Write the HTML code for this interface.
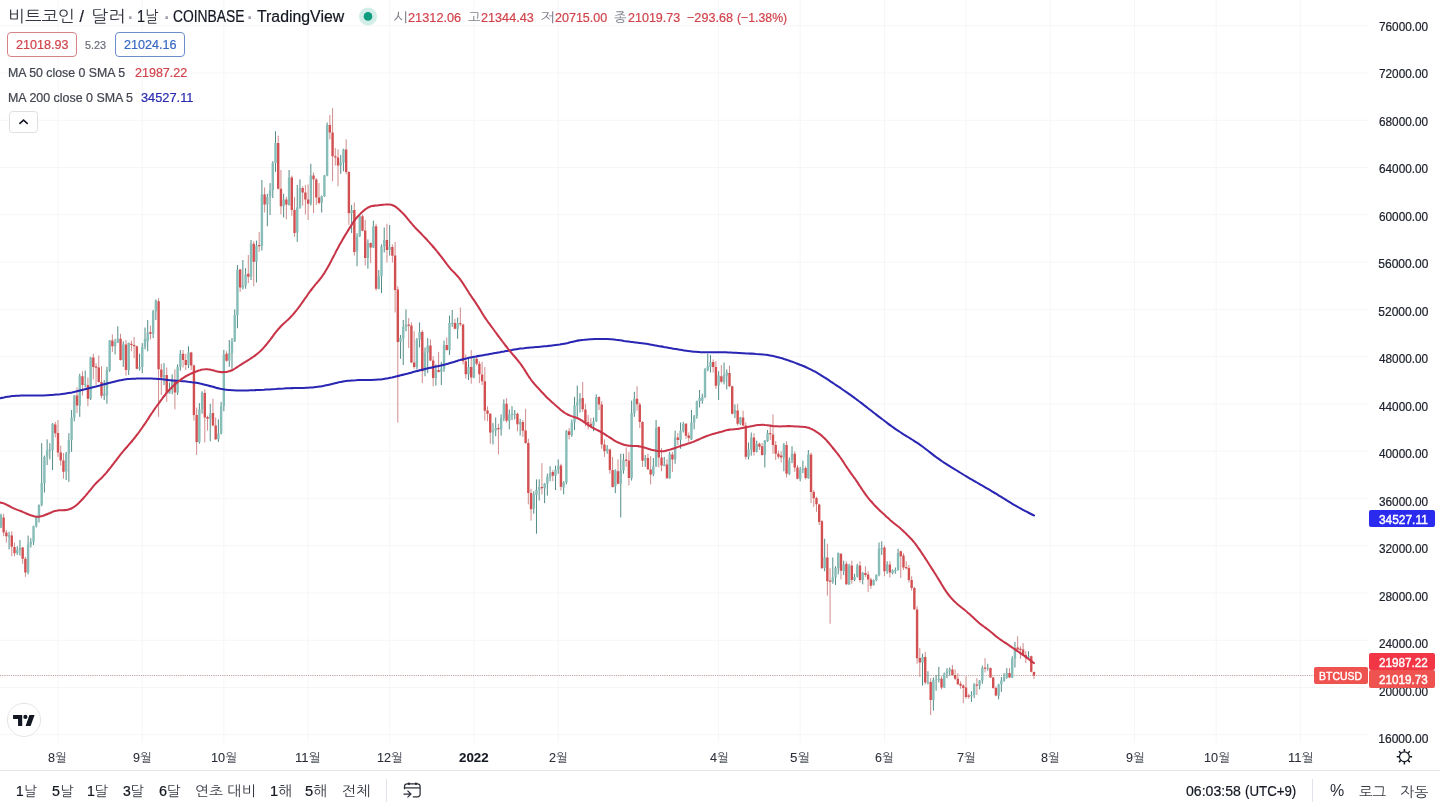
<!DOCTYPE html>
<html lang="ko">
<head>
<meta charset="utf-8">
<title>비트코인 / 달러 · 1날 · COINBASE · TradingView</title>
<style>
html,body{margin:0;padding:0;background:#fff}
body{width:1440px;height:810px;overflow:hidden;position:relative;font-family:"Liberation Sans", "NanumGothic", "Noto Sans CJK KR", sans-serif}
.t{position:absolute;white-space:pre;display:block;transform-origin:0 50%;font-weight:400}
.price-labels .t{-webkit-text-stroke:0.4px #fff}
.t{-webkit-text-stroke:0.22px currentColor}
.k{-webkit-text-stroke:0 transparent;opacity:.86}
.t.thin{-webkit-text-stroke:0 transparent}
.time-axis .t{-webkit-text-stroke:0.08px currentColor}
.grp{position:absolute;left:0;top:0;margin:0;padding:0;font-size:0;font-weight:400}
.chart{position:absolute;left:0;top:0}
.box{position:absolute;box-sizing:border-box}
.pill{border:1px solid;border-radius:4px;background:#fff}
.tag{border-radius:2px}
.bar{position:absolute;background:#e0e3eb}
</style>
</head>
<body>
<svg class="chart" width="1440" height="810" viewBox="0 0 1440 810">
<path d="M0 25.70H1369M0 72.97H1369M0 120.24H1369M0 167.51H1369M0 214.78H1369M0 262.05H1369M0 309.32H1369M0 356.59H1369M0 403.86H1369M0 451.13H1369M0 498.40H1369M0 545.67H1369M0 592.94H1369M0 640.21H1369M0 687.48H1369M0 734.75H1369M58.00 0V742.5M142.28 0V742.5M223.83 0V742.5M308.11 0V742.5M389.67 0V742.5M473.95 0V742.5M558.22 0V742.5M718.62 0V742.5M800.18 0V742.5M884.45 0V742.5M966.01 0V742.5M1050.29 0V742.5M1134.57 0V742.5M1216.12 0V742.5M1300.40 0V742.5" stroke="#f5f6f8" stroke-width="1" fill="none"/>
<path d="M0 675.5H1314" stroke="#c09a9a" stroke-width="1" stroke-dasharray="1.1 1.1" fill="none"/>
<g class="candles">
<path d="M0.91 513.75V528.12M9.07 531.88V549.38M17.22 546.25V555.00M19.94 540.00V555.62M28.10 535.62V574.38M30.81 538.12V547.50M33.53 525.62V545.00M36.25 515.62V527.50M38.97 504.38V522.50M41.69 443.12V506.25M44.41 455.62V492.50M47.13 439.38V465.00M49.84 443.12V459.38M52.56 423.12V470.00M66.16 451.88V480.00M68.87 433.12V481.88M71.59 410.00V451.88M74.31 395.00V421.25M79.75 373.75V416.88M85.19 370.62V387.50M90.62 356.88V400.00M104.22 380.00V400.00M106.93 366.88V403.75M109.65 340.00V371.88M115.09 338.75V354.38M117.81 326.25V343.12M123.25 341.25V366.88M128.68 342.50V375.00M139.56 353.75V370.62M142.28 343.12V373.12M145.00 327.50V349.38M147.71 320.00V351.25M153.15 310.00V338.12M155.87 299.38V320.00M164.03 363.12V385.00M169.46 382.50V393.75M172.18 374.38V394.38M177.62 364.38V395.00M180.34 350.00V370.62M188.49 346.25V368.12M199.37 403.12V443.75M202.09 391.25V413.75M210.24 403.75V441.25M218.40 419.38V441.88M221.12 401.88V434.38M223.83 350.00V411.25M229.27 340.00V366.88M231.99 338.12V368.75M234.71 309.38V341.88M237.43 265.00V328.25M242.86 260.00V289.38M245.58 268.12V288.75M251.02 240.00V280.00M256.46 240.62V282.50M261.89 180.00V250.62M267.33 193.75V226.25M270.05 183.12V215.00M272.77 161.25V198.12M275.49 131.25V171.88M283.64 193.75V217.50M289.08 170.00V205.62M297.24 185.00V241.88M299.96 179.38V208.75M310.83 163.75V205.62M321.70 195.62V212.50M324.42 175.00V196.88M327.14 122.50V176.25M340.73 155.00V173.75M343.45 148.75V171.25M351.61 205.00V233.12M357.05 233.12V266.25M359.76 215.00V236.88M367.92 239.38V268.75M373.36 220.62V248.12M378.79 270.00V289.38M381.51 244.38V293.12M384.23 227.50V252.50M389.67 225.00V255.62M400.54 335.00V358.75M403.26 320.00V365.00M405.98 309.38V331.25M416.86 338.12V369.38M419.57 322.50V347.50M425.01 347.50V376.25M427.73 338.12V373.12M435.89 364.38V385.62M441.32 361.88V385.00M444.04 340.62V371.88M449.48 315.62V355.00M452.20 310.00V326.88M457.63 317.50V338.75M468.51 357.50V380.00M473.95 357.50V378.12M492.98 423.12V444.38M495.69 417.50V436.25M501.13 414.38V435.62M503.85 399.38V421.25M509.29 409.38V429.38M512.01 406.25V420.00M514.72 410.00V419.38M520.16 418.75V435.62M533.75 491.25V513.75M536.47 479.38V533.75M539.19 479.38V500.62M544.63 483.12V503.12M547.35 473.75V495.62M550.07 466.25V481.25M555.50 465.62V490.00M558.22 459.38V473.75M563.66 481.25V494.38M566.38 430.00V484.38M571.82 419.38V436.88M574.53 396.88V430.00M577.25 385.62V416.88M579.97 393.12V412.50M593.56 417.50V431.25M596.28 394.38V421.88M607.16 445.00V453.75M615.31 469.38V493.12M620.75 453.75V517.50M623.47 453.75V473.75M631.62 400.62V480.62M634.34 391.88V416.88M645.22 455.00V466.88M653.37 458.12V476.25M656.09 420.00V466.88M664.25 456.88V466.25M669.68 451.88V478.75M675.12 430.62V463.75M680.56 422.50V448.75M683.28 421.88V432.50M691.43 410.00V440.00M694.15 415.00V429.38M696.87 400.62V418.75M699.59 390.00V407.50M702.31 393.75V403.75M705.03 368.12V398.12M707.75 353.75V371.25M710.46 355.00V372.50M718.62 371.25V400.00M724.06 362.50V384.38M726.78 369.38V389.38M734.93 404.38V418.12M740.37 416.88V425.00M748.52 442.50V459.38M751.24 432.50V455.62M756.68 440.62V452.50M764.84 440.00V467.50M767.55 430.00V441.88M783.87 443.12V471.25M789.30 457.50V475.00M792.02 446.25V463.12M800.18 466.88V481.25M802.90 460.62V473.12M808.33 450.00V478.75M824.65 538.75V571.25M832.80 557.50V583.75M835.52 566.25V585.00M838.24 552.50V574.38M843.68 560.62V575.00M849.11 563.75V585.00M854.55 573.75V581.25M857.27 563.75V577.50M862.71 571.88V584.38M873.58 579.38V585.62M876.30 574.38V581.25M879.02 542.50V576.25M881.74 541.25V555.00M887.17 561.25V573.75M892.61 569.38V574.38M895.33 567.50V573.75M898.05 548.75V570.62M922.51 653.75V685.62M927.95 671.25V684.38M933.39 677.50V710.62M936.11 675.00V690.62M938.83 666.88V682.50M944.26 672.50V688.12M946.98 668.12V678.12M949.70 667.50V675.62M971.45 691.25V701.88M974.17 683.12V698.12M979.61 680.00V689.38M982.32 665.62V683.75M987.76 663.75V670.62M998.64 683.75V699.38M1001.35 676.88V691.88M1004.07 673.12V681.88M1006.79 668.12V678.75M1012.23 656.25V678.12M1014.95 641.88V667.50M1028.54 651.25V658.75" stroke="#528c87" stroke-width="1.00" fill="none"/>
<path d="M3.63 513.75V536.25M6.35 530.00V542.50M11.78 531.25V556.25M14.50 542.50V556.25M22.66 546.88V563.75M25.38 556.88V576.88M55.28 421.88V437.50M58.00 420.00V456.88M60.72 445.62V465.62M63.44 453.12V478.75M77.03 387.50V413.12M82.47 371.25V395.62M87.90 377.50V406.25M93.34 353.75V379.38M96.06 363.12V385.00M98.78 355.62V382.50M101.50 366.25V398.12M112.37 334.38V351.88M120.53 333.75V360.62M125.97 340.00V375.62M131.40 340.62V351.25M134.12 336.88V358.12M136.84 345.62V369.38M150.43 325.62V339.38M158.59 298.12V416.88M161.31 363.75V395.00M166.74 367.50V401.88M174.90 369.38V409.38M183.06 350.00V367.50M185.77 353.75V370.00M191.21 351.88V370.00M193.93 364.38V420.62M196.65 407.50V455.00M204.80 389.38V442.50M207.52 415.62V430.62M212.96 398.75V426.25M215.68 417.50V440.00M226.55 351.25V361.88M240.15 268.75V291.88M248.30 255.00V283.12M253.74 241.25V286.25M259.18 231.88V251.88M264.61 187.50V212.50M278.21 135.62V189.38M280.93 170.00V214.38M286.36 196.88V219.38M291.80 175.62V215.62M294.52 196.88V236.88M302.67 186.25V205.62M305.39 185.00V214.38M308.11 184.38V220.00M313.55 172.50V213.12M316.27 178.12V205.00M318.99 183.12V204.38M329.86 115.00V139.38M332.58 108.12V181.25M335.30 148.12V165.62M338.02 149.38V186.25M346.17 139.38V174.38M348.89 171.25V225.00M354.33 202.50V255.62M362.48 214.38V231.25M365.20 220.00V265.62M370.64 242.50V263.12M376.08 223.75V290.62M386.95 223.75V262.50M392.39 244.38V262.50M395.11 241.88V312.50M397.82 286.25V422.50M408.70 318.12V348.12M411.42 322.50V363.12M414.14 331.25V368.75M422.29 330.00V383.12M430.45 339.38V361.25M433.17 356.25V386.25M438.60 351.88V372.50M446.76 337.50V350.62M454.92 318.75V329.38M460.35 307.50V326.25M463.07 323.75V364.38M465.79 354.38V378.75M471.23 350.00V383.75M476.66 356.25V365.62M479.38 361.25V383.12M482.10 361.88V385.00M484.82 366.88V420.62M487.54 406.25V421.25M490.26 413.12V443.75M498.41 423.75V454.38M506.57 398.12V422.50M517.44 412.50V431.25M522.88 420.00V436.88M525.60 408.75V443.75M528.32 438.75V504.38M531.04 488.75V520.62M541.91 463.12V494.38M552.79 470.00V481.25M560.94 463.75V490.62M569.10 428.12V439.38M582.69 381.88V411.88M585.41 403.75V426.25M588.13 415.00V429.38M590.85 418.12V428.12M599.00 396.25V410.00M601.72 401.25V448.75M604.44 439.38V456.88M609.88 448.75V473.75M612.59 456.88V487.50M618.03 459.38V484.38M626.19 447.50V466.88M628.91 451.88V485.62M637.06 386.25V410.62M639.78 402.50V428.12M642.50 421.25V466.88M647.94 453.75V470.00M650.65 456.25V484.38M658.81 426.25V467.50M661.53 448.12V471.25M666.97 459.38V478.75M672.40 451.88V471.88M677.84 433.12V445.00M686.00 423.12V438.75M688.72 432.50V441.88M713.18 359.38V372.50M715.90 361.25V388.75M721.34 365.00V383.12M729.49 365.62V386.88M732.21 385.62V414.38M737.65 403.75V425.62M743.09 410.62V426.25M745.81 422.50V459.38M753.96 433.12V455.62M759.40 442.50V450.00M762.12 443.12V455.62M770.27 425.62V440.00M772.99 414.38V453.75M775.71 441.25V460.00M778.43 450.62V458.75M781.15 451.25V462.50M786.58 441.25V477.50M794.74 451.25V471.88M797.46 465.00V479.38M805.62 466.25V479.38M811.05 452.50V503.12M813.77 490.00V506.88M816.49 496.88V511.88M819.21 503.75V525.00M821.93 520.00V568.75M827.36 543.75V595.62M830.08 568.12V623.75M840.96 553.12V579.38M846.39 561.25V585.00M851.83 560.62V583.75M859.99 561.25V582.50M865.42 566.25V576.88M868.14 571.25V591.88M870.86 577.50V588.75M884.45 545.62V576.25M889.89 561.25V577.50M900.77 550.62V578.12M903.48 553.12V570.00M906.20 561.25V569.38M908.92 565.00V582.50M911.64 576.25V590.62M914.36 586.88V610.00M917.08 606.25V663.75M919.80 648.12V676.88M925.23 651.88V684.38M930.67 678.12V715.00M941.54 676.25V689.38M952.42 665.00V675.62M955.14 669.38V680.00M957.86 673.12V685.00M960.58 681.25V688.75M963.29 684.38V703.12M966.01 676.25V698.75M968.73 693.75V698.75M976.89 678.12V695.00M985.04 658.12V672.50M990.48 667.50V678.12M993.20 676.88V688.75M995.92 686.25V696.25M1009.51 668.12V678.12M1017.67 636.25V650.62M1020.38 646.25V658.75M1023.10 643.12V655.62M1025.82 651.25V663.12M1031.26 655.62V672.50M1033.98 671.50V679.00" stroke="#d08c8c" stroke-width="1.00" fill="none"/>
<path d="M-0.29 515.00h2.40v12.50h-2.40zM7.87 535.00h2.40v1.88h-2.40zM16.02 550.00h2.40v3.12h-2.40zM18.74 548.12h2.40v1.88h-2.40zM26.90 544.38h2.40v28.12h-2.40zM29.61 541.88h2.40v2.50h-2.40zM32.33 526.25h2.40v15.62h-2.40zM35.05 516.88h2.40v9.38h-2.40zM37.77 505.00h2.40v11.88h-2.40zM40.49 483.12h2.40v21.88h-2.40zM43.21 456.88h2.40v26.25h-2.40zM45.93 450.62h2.40v6.25h-2.40zM48.64 449.75h2.40v1.25h-2.40zM51.36 423.75h2.40v26.62h-2.40zM64.96 453.75h2.40v18.12h-2.40zM67.67 440.00h2.40v13.75h-2.40zM70.39 417.50h2.40v22.50h-2.40zM73.11 395.62h2.40v21.88h-2.40zM78.55 376.25h2.40v29.38h-2.40zM83.99 383.75h2.40v1.25h-2.40zM89.42 357.50h2.40v41.25h-2.40zM103.02 393.75h2.40v1.88h-2.40zM105.73 370.00h2.40v25.62h-2.40zM108.45 340.62h2.40v30.00h-2.40zM113.89 341.88h2.40v4.38h-2.40zM116.61 338.75h2.40v3.75h-2.40zM122.05 344.38h2.40v15.62h-2.40zM127.48 343.12h2.40v26.88h-2.40zM138.36 366.88h2.40v1.88h-2.40zM141.08 346.88h2.40v20.00h-2.40zM143.80 338.75h2.40v8.12h-2.40zM146.51 332.50h2.40v8.75h-2.40zM151.95 311.25h2.40v22.50h-2.40zM154.67 300.62h2.40v10.62h-2.40zM162.83 375.00h2.40v2.50h-2.40zM168.26 389.38h2.40v3.75h-2.40zM170.98 380.00h2.40v9.38h-2.40zM176.42 366.88h2.40v25.62h-2.40zM179.14 353.75h2.40v13.12h-2.40zM187.29 352.50h2.40v12.50h-2.40zM198.17 409.38h2.40v32.50h-2.40zM200.89 392.50h2.40v16.88h-2.40zM209.04 413.75h2.40v5.00h-2.40zM217.20 433.75h2.40v5.62h-2.40zM219.92 406.25h2.40v27.50h-2.40zM222.63 354.38h2.40v51.88h-2.40zM228.07 353.12h2.40v7.50h-2.40zM230.79 341.25h2.40v11.88h-2.40zM233.51 315.00h2.40v26.25h-2.40zM236.23 269.75h2.40v45.50h-2.40zM241.66 285.62h2.40v1.88h-2.40zM244.38 274.38h2.40v11.25h-2.40zM249.82 243.75h2.40v33.12h-2.40zM255.26 245.62h2.40v16.25h-2.40zM260.69 194.38h2.40v51.25h-2.40zM266.13 196.88h2.40v7.50h-2.40zM268.85 190.62h2.40v6.25h-2.40zM271.57 163.12h2.40v27.50h-2.40zM274.29 143.12h2.40v20.00h-2.40zM282.44 199.38h2.40v6.88h-2.40zM287.88 177.50h2.40v27.50h-2.40zM296.04 207.50h2.40v25.00h-2.40zM298.76 188.12h2.40v19.38h-2.40zM309.63 175.62h2.40v28.12h-2.40zM320.50 196.25h2.40v6.25h-2.40zM323.22 175.62h2.40v20.62h-2.40zM325.94 125.00h2.40v50.62h-2.40zM339.53 162.50h2.40v3.12h-2.40zM342.25 149.38h2.40v13.12h-2.40zM350.41 210.62h2.40v2.50h-2.40zM355.85 236.25h2.40v15.00h-2.40zM358.56 216.25h2.40v20.00h-2.40zM366.72 243.12h2.40v15.00h-2.40zM372.16 226.25h2.40v21.25h-2.40zM377.59 276.25h2.40v12.50h-2.40zM380.31 246.25h2.40v30.00h-2.40zM383.03 240.00h2.40v6.25h-2.40zM388.47 246.88h2.40v3.12h-2.40zM399.34 338.12h2.40v3.75h-2.40zM402.06 326.88h2.40v11.25h-2.40zM404.78 324.38h2.40v2.50h-2.40zM415.66 339.38h2.40v27.50h-2.40zM418.37 331.88h2.40v7.50h-2.40zM423.81 352.50h2.40v18.75h-2.40zM426.53 345.62h2.40v6.88h-2.40zM434.69 370.00h2.40v8.12h-2.40zM440.12 368.75h2.40v3.12h-2.40zM442.84 345.00h2.40v23.75h-2.40zM448.28 323.12h2.40v26.88h-2.40zM451.00 322.50h2.40v1.25h-2.40zM456.43 323.12h2.40v5.62h-2.40zM467.31 366.88h2.40v7.50h-2.40zM472.75 358.75h2.40v18.75h-2.40zM491.78 430.62h2.40v1.88h-2.40zM494.49 428.12h2.40v2.50h-2.40zM499.93 418.12h2.40v11.25h-2.40zM502.65 403.75h2.40v14.38h-2.40zM508.09 414.38h2.40v6.25h-2.40zM510.81 413.75h2.40v1.25h-2.40zM513.52 413.75h2.40v1.00h-2.40zM518.96 421.88h2.40v2.50h-2.40zM532.55 494.38h2.40v14.38h-2.40zM535.27 490.00h2.40v5.00h-2.40zM537.99 486.88h2.40v3.12h-2.40zM543.43 483.75h2.40v4.38h-2.40zM546.15 476.88h2.40v6.88h-2.40zM548.87 473.12h2.40v4.38h-2.40zM554.30 469.38h2.40v6.25h-2.40zM557.02 466.25h2.40v3.12h-2.40zM562.46 482.50h2.40v5.00h-2.40zM565.18 431.25h2.40v51.25h-2.40zM570.62 422.50h2.40v12.50h-2.40zM573.33 405.62h2.40v16.88h-2.40zM576.05 402.50h2.40v3.12h-2.40zM578.77 398.75h2.40v3.75h-2.40zM592.36 421.25h2.40v4.38h-2.40zM595.08 396.88h2.40v24.38h-2.40zM605.96 448.75h2.40v2.50h-2.40zM614.11 470.62h2.40v15.62h-2.40zM619.55 470.62h2.40v13.12h-2.40zM622.27 460.00h2.40v10.62h-2.40zM630.42 413.12h2.40v65.00h-2.40zM633.14 398.75h2.40v14.38h-2.40zM644.02 458.12h2.40v2.50h-2.40zM652.17 466.25h2.40v8.12h-2.40zM654.89 428.12h2.40v38.12h-2.40zM663.05 464.38h2.40v1.25h-2.40zM668.48 453.75h2.40v24.38h-2.40zM673.92 437.50h2.40v21.88h-2.40zM679.36 430.62h2.40v9.38h-2.40zM682.08 423.75h2.40v6.88h-2.40zM690.23 422.50h2.40v16.88h-2.40zM692.95 416.25h2.40v6.25h-2.40zM695.67 401.25h2.40v15.00h-2.40zM698.39 398.12h2.40v3.12h-2.40zM701.11 396.88h2.40v3.75h-2.40zM703.83 369.38h2.40v27.50h-2.40zM706.55 366.25h2.40v3.75h-2.40zM709.26 361.88h2.40v5.00h-2.40zM717.42 375.62h2.40v10.00h-2.40zM722.86 375.00h2.40v6.88h-2.40zM725.58 372.50h2.40v3.12h-2.40zM733.73 410.00h2.40v3.75h-2.40zM739.17 417.50h2.40v6.25h-2.40zM747.32 449.38h2.40v7.50h-2.40zM750.04 437.50h2.40v11.88h-2.40zM755.48 443.75h2.40v8.12h-2.40zM763.64 440.62h2.40v14.38h-2.40zM766.35 433.12h2.40v8.12h-2.40zM782.67 444.38h2.40v13.12h-2.40zM788.10 460.62h2.40v13.12h-2.40zM790.82 453.75h2.40v6.25h-2.40zM798.98 469.38h2.40v9.38h-2.40zM801.70 468.75h2.40v1.25h-2.40zM807.13 454.38h2.40v23.75h-2.40zM823.45 557.50h2.40v10.62h-2.40zM831.60 577.50h2.40v4.38h-2.40zM834.32 568.12h2.40v9.38h-2.40zM837.04 553.12h2.40v15.00h-2.40zM842.48 564.38h2.40v6.88h-2.40zM847.91 565.62h2.40v18.75h-2.40zM853.35 576.88h2.40v3.12h-2.40zM856.07 565.62h2.40v11.25h-2.40zM861.51 573.12h2.40v6.88h-2.40zM872.38 580.00h2.40v5.00h-2.40zM875.10 575.00h2.40v5.00h-2.40zM877.82 548.75h2.40v26.25h-2.40zM880.54 548.12h2.40v1.25h-2.40zM885.97 564.38h2.40v6.88h-2.40zM891.41 570.62h2.40v2.50h-2.40zM894.13 570.00h2.40v1.25h-2.40zM896.85 553.12h2.40v16.88h-2.40zM921.31 656.88h2.40v5.62h-2.40zM926.75 681.62h2.40v0.88h-2.40zM932.19 680.00h2.40v20.00h-2.40zM934.91 679.48h2.40v0.80h-2.40zM937.63 678.75h2.40v1.25h-2.40zM943.06 673.75h2.40v13.75h-2.40zM945.78 671.25h2.40v2.50h-2.40zM948.50 669.38h2.40v1.88h-2.40zM970.25 695.00h2.40v1.25h-2.40zM972.97 684.38h2.40v10.62h-2.40zM978.41 680.62h2.40v5.00h-2.40zM981.12 668.12h2.40v12.50h-2.40zM986.56 667.79h2.40v0.80h-2.40zM997.44 684.38h2.40v11.25h-2.40zM1000.15 680.62h2.40v3.75h-2.40zM1002.87 676.88h2.40v3.75h-2.40zM1005.59 673.12h2.40v4.38h-2.40zM1011.03 658.75h2.40v18.75h-2.40zM1013.75 648.12h2.40v10.62h-2.40zM1027.34 656.25h2.40v1.25h-2.40z" fill="#86bdb8"/>
<path d="M2.43 517.50h2.40v15.00h-2.40zM5.15 532.50h2.40v3.75h-2.40zM10.58 535.62h2.40v11.25h-2.40zM13.30 546.88h2.40v6.25h-2.40zM21.46 547.50h2.40v11.25h-2.40zM24.18 558.75h2.40v13.75h-2.40zM54.08 424.38h2.40v8.75h-2.40zM56.80 433.12h2.40v19.38h-2.40zM59.52 452.50h2.40v8.12h-2.40zM62.24 460.62h2.40v11.25h-2.40zM75.83 395.62h2.40v10.00h-2.40zM81.27 376.25h2.40v8.75h-2.40zM86.70 385.00h2.40v13.75h-2.40zM92.14 357.50h2.40v9.38h-2.40zM94.86 366.50h2.40v1.25h-2.40zM97.58 367.50h2.40v14.38h-2.40zM100.30 381.88h2.40v13.75h-2.40zM111.17 340.62h2.40v5.62h-2.40zM119.33 338.75h2.40v21.25h-2.40zM124.77 344.38h2.40v25.62h-2.40zM130.20 343.75h2.40v1.25h-2.40zM132.92 345.00h2.40v1.25h-2.40zM135.64 346.25h2.40v22.50h-2.40zM149.23 331.88h2.40v1.88h-2.40zM157.39 301.25h2.40v68.12h-2.40zM160.11 369.38h2.40v8.12h-2.40zM165.54 375.00h2.40v18.12h-2.40zM173.70 380.00h2.40v12.50h-2.40zM181.86 353.75h2.40v6.25h-2.40zM184.57 360.00h2.40v5.00h-2.40zM190.01 352.50h2.40v13.12h-2.40zM192.73 365.62h2.40v49.38h-2.40zM195.45 415.00h2.40v26.88h-2.40zM203.60 393.12h2.40v24.38h-2.40zM206.32 416.88h2.40v1.88h-2.40zM211.76 413.12h2.40v12.50h-2.40zM214.48 425.62h2.40v13.75h-2.40zM225.35 353.75h2.40v6.88h-2.40zM238.95 269.38h2.40v18.12h-2.40zM247.10 273.75h2.40v3.12h-2.40zM252.54 243.75h2.40v18.12h-2.40zM257.98 245.00h2.40v1.25h-2.40zM263.41 194.38h2.40v10.00h-2.40zM277.01 143.12h2.40v45.62h-2.40zM279.73 188.75h2.40v17.50h-2.40zM285.16 199.38h2.40v5.00h-2.40zM290.60 177.50h2.40v32.50h-2.40zM293.32 210.00h2.40v23.12h-2.40zM301.47 188.12h2.40v4.38h-2.40zM304.19 192.50h2.40v6.88h-2.40zM306.91 199.38h2.40v4.38h-2.40zM312.35 175.62h2.40v3.75h-2.40zM315.07 179.38h2.40v18.12h-2.40zM317.79 197.50h2.40v5.62h-2.40zM328.66 125.00h2.40v7.50h-2.40zM331.38 132.50h2.40v23.75h-2.40zM334.10 156.25h2.40v1.25h-2.40zM336.82 157.50h2.40v8.12h-2.40zM344.97 149.38h2.40v22.50h-2.40zM347.69 171.88h2.40v41.25h-2.40zM353.13 210.00h2.40v41.88h-2.40zM361.28 216.25h2.40v14.38h-2.40zM364.00 230.62h2.40v27.50h-2.40zM369.44 243.12h2.40v4.38h-2.40zM374.88 226.25h2.40v62.50h-2.40zM385.75 240.00h2.40v10.00h-2.40zM391.19 246.88h2.40v8.75h-2.40zM393.91 255.62h2.40v34.38h-2.40zM396.62 289.38h2.40v52.50h-2.40zM407.50 324.38h2.40v1.25h-2.40zM410.22 325.62h2.40v36.88h-2.40zM412.94 362.50h2.40v4.38h-2.40zM421.09 331.88h2.40v39.38h-2.40zM429.25 345.62h2.40v15.00h-2.40zM431.97 360.62h2.40v17.50h-2.40zM437.40 370.00h2.40v1.88h-2.40zM445.56 345.00h2.40v5.00h-2.40zM453.72 323.12h2.40v5.62h-2.40zM459.15 323.12h2.40v1.25h-2.40zM461.87 324.38h2.40v36.88h-2.40zM464.59 361.25h2.40v13.12h-2.40zM470.03 366.88h2.40v10.62h-2.40zM475.46 358.75h2.40v5.00h-2.40zM478.18 363.75h2.40v10.62h-2.40zM480.90 374.38h2.40v6.88h-2.40zM483.62 381.25h2.40v29.38h-2.40zM486.34 410.62h2.40v3.12h-2.40zM489.06 413.75h2.40v18.75h-2.40zM497.21 428.12h2.40v1.25h-2.40zM505.37 403.75h2.40v16.88h-2.40zM516.24 413.75h2.40v10.62h-2.40zM521.68 421.88h2.40v8.75h-2.40zM524.40 430.62h2.40v12.50h-2.40zM527.12 443.12h2.40v50.00h-2.40zM529.84 493.12h2.40v16.25h-2.40zM540.71 486.88h2.40v1.25h-2.40zM551.59 471.88h2.40v3.75h-2.40zM559.74 465.62h2.40v21.25h-2.40zM567.90 431.25h2.40v3.75h-2.40zM581.49 398.12h2.40v11.25h-2.40zM584.21 409.38h2.40v13.12h-2.40zM586.93 421.88h2.40v1.88h-2.40zM589.65 423.75h2.40v1.88h-2.40zM597.80 396.88h2.40v7.50h-2.40zM600.52 404.38h2.40v40.00h-2.40zM603.24 444.38h2.40v6.88h-2.40zM608.68 449.38h2.40v20.62h-2.40zM611.39 470.00h2.40v16.88h-2.40zM616.83 471.25h2.40v12.50h-2.40zM624.99 459.38h2.40v1.25h-2.40zM627.71 460.62h2.40v17.50h-2.40zM635.86 398.75h2.40v5.62h-2.40zM638.58 404.38h2.40v17.50h-2.40zM641.30 421.88h2.40v38.75h-2.40zM646.74 458.12h2.40v11.25h-2.40zM649.45 469.38h2.40v5.00h-2.40zM657.61 426.88h2.40v30.62h-2.40zM660.33 457.50h2.40v8.12h-2.40zM665.77 464.38h2.40v13.75h-2.40zM671.20 454.38h2.40v5.00h-2.40zM676.64 437.50h2.40v2.50h-2.40zM684.80 423.75h2.40v11.88h-2.40zM687.52 435.62h2.40v2.50h-2.40zM711.98 361.88h2.40v5.00h-2.40zM714.70 366.88h2.40v18.75h-2.40zM720.14 376.25h2.40v5.62h-2.40zM728.29 373.12h2.40v13.12h-2.40zM731.01 386.25h2.40v27.50h-2.40zM736.45 410.62h2.40v13.12h-2.40zM741.89 417.50h2.40v8.12h-2.40zM744.61 425.62h2.40v31.25h-2.40zM752.76 437.50h2.40v14.38h-2.40zM758.20 443.75h2.40v3.12h-2.40zM760.92 446.25h2.40v8.75h-2.40zM769.07 433.12h2.40v1.25h-2.40zM771.79 434.38h2.40v10.62h-2.40zM774.51 445.00h2.40v8.75h-2.40zM777.23 453.75h2.40v3.12h-2.40zM779.95 455.62h2.40v1.88h-2.40zM785.38 445.00h2.40v28.75h-2.40zM793.54 453.75h2.40v13.75h-2.40zM796.26 467.50h2.40v11.25h-2.40zM804.41 468.12h2.40v10.00h-2.40zM809.85 454.38h2.40v37.50h-2.40zM812.57 491.88h2.40v6.25h-2.40zM815.29 498.12h2.40v6.25h-2.40zM818.01 504.38h2.40v17.50h-2.40zM820.73 521.25h2.40v46.88h-2.40zM826.16 557.50h2.40v23.75h-2.40zM828.88 580.62h2.40v1.25h-2.40zM839.76 553.75h2.40v16.88h-2.40zM845.19 563.75h2.40v20.62h-2.40zM850.63 565.62h2.40v14.38h-2.40zM858.79 565.62h2.40v14.38h-2.40zM864.22 573.12h2.40v1.88h-2.40zM866.94 574.38h2.40v5.00h-2.40zM869.66 579.38h2.40v6.25h-2.40zM883.25 547.50h2.40v23.75h-2.40zM888.69 564.38h2.40v8.12h-2.40zM899.57 551.25h2.40v5.00h-2.40zM902.28 555.62h2.40v11.88h-2.40zM905.00 566.88h2.40v1.25h-2.40zM907.72 568.12h2.40v11.88h-2.40zM910.44 580.00h2.40v8.12h-2.40zM913.16 588.12h2.40v21.25h-2.40zM915.88 609.38h2.40v48.75h-2.40zM918.60 658.12h2.40v4.38h-2.40zM924.03 656.88h2.40v25.62h-2.40zM929.47 681.88h2.40v18.12h-2.40zM940.34 678.75h2.40v8.75h-2.40zM951.22 669.38h2.40v5.62h-2.40zM953.94 675.00h2.40v3.75h-2.40zM956.66 678.75h2.40v5.62h-2.40zM959.38 683.75h2.40v1.88h-2.40zM962.09 685.62h2.40v2.50h-2.40zM964.81 687.50h2.40v9.38h-2.40zM967.53 695.62h2.40v1.25h-2.40zM975.69 684.38h2.40v1.25h-2.40zM983.84 667.50h2.40v1.25h-2.40zM989.28 668.12h2.40v9.38h-2.40zM992.00 677.50h2.40v10.62h-2.40zM994.72 688.12h2.40v7.50h-2.40zM1008.31 673.12h2.40v4.38h-2.40zM1016.47 647.50h2.40v1.88h-2.40zM1019.18 648.75h2.40v1.25h-2.40zM1021.90 649.38h2.40v5.62h-2.40zM1024.62 655.00h2.40v1.88h-2.40zM1030.06 656.25h2.40v15.62h-2.40zM1032.78 672.00h2.40v3.38h-2.40z" fill="#d35052"/>
</g>
<path d="M0.0 398.2C0.7 398.0 2.7 397.6 4.0 397.4C5.3 397.1 6.7 396.9 8.0 396.7C9.3 396.5 10.7 396.3 12.0 396.1C13.3 396.0 14.7 395.9 16.0 395.8C17.3 395.7 18.7 395.6 20.0 395.6C21.3 395.5 22.7 395.5 24.0 395.5C25.3 395.5 26.7 395.4 28.0 395.4C29.3 395.4 30.7 395.4 32.0 395.4C33.3 395.4 34.7 395.5 36.0 395.5C37.3 395.5 38.7 395.5 40.0 395.4C41.3 395.4 42.7 395.4 44.0 395.4C45.3 395.3 46.7 395.3 48.0 395.2C49.3 395.1 50.7 395.0 52.0 394.9C53.3 394.8 54.7 394.7 56.0 394.6C57.3 394.5 58.7 394.3 60.0 394.2C61.3 394.0 62.7 393.9 64.0 393.7C65.3 393.5 66.7 393.3 68.0 393.1C69.3 392.9 70.7 392.6 72.0 392.4C73.3 392.1 74.7 391.8 76.0 391.5C77.3 391.2 78.7 390.9 80.0 390.6C81.3 390.3 82.7 389.9 84.0 389.6C85.3 389.3 86.7 388.9 88.0 388.6C89.3 388.2 90.7 387.9 92.0 387.5C93.3 387.2 94.7 386.8 96.0 386.5C97.3 386.1 98.7 385.7 100.0 385.4C101.3 385.0 102.7 384.7 104.0 384.3C105.3 384.0 106.7 383.6 108.0 383.2C109.3 382.9 110.7 382.5 112.0 382.2C113.3 381.9 114.7 381.5 116.0 381.2C117.3 380.9 118.7 380.6 120.0 380.3C121.3 380.1 122.7 379.8 124.0 379.6C125.3 379.4 126.7 379.3 128.0 379.1C129.3 379.0 130.7 378.9 132.0 378.8C133.3 378.7 134.7 378.6 136.0 378.6C137.3 378.5 138.7 378.5 140.0 378.5C141.3 378.4 142.7 378.4 144.0 378.4C145.3 378.4 146.7 378.4 148.0 378.4C149.3 378.4 150.7 378.5 152.0 378.5C153.3 378.6 154.7 378.7 156.0 378.8C157.3 378.9 158.7 379.0 160.0 379.1C161.3 379.3 162.7 379.5 164.0 379.6C165.3 379.8 166.7 379.9 168.0 380.0C169.3 380.2 170.7 380.3 172.0 380.4C173.3 380.5 174.7 380.6 176.0 380.7C177.3 380.8 178.7 380.9 180.0 381.0C181.3 381.1 182.7 381.2 184.0 381.3C185.3 381.4 186.7 381.5 188.0 381.7C189.3 381.8 190.7 382.0 192.0 382.2C193.3 382.3 194.7 382.6 196.0 382.8C197.3 383.0 198.7 383.3 200.0 383.6C201.3 383.8 202.7 384.2 204.0 384.5C205.3 384.8 206.7 385.2 208.0 385.5C209.3 385.9 210.7 386.3 212.0 386.6C213.3 387.0 214.7 387.4 216.0 387.7C217.3 388.1 218.7 388.4 220.0 388.7C221.3 389.0 222.7 389.2 224.0 389.4C225.3 389.6 226.7 389.8 228.0 389.9C229.3 390.0 230.7 390.1 232.0 390.2C233.3 390.3 234.7 390.3 236.0 390.4C237.3 390.4 238.7 390.4 240.0 390.4C241.3 390.4 242.7 390.4 244.0 390.4C245.3 390.4 246.7 390.4 248.0 390.4C249.3 390.3 250.7 390.3 252.0 390.2C253.3 390.2 254.7 390.1 256.0 390.1C257.3 390.0 258.7 389.9 260.0 389.9C261.3 389.8 262.7 389.7 264.0 389.7C265.3 389.6 266.7 389.5 268.0 389.4C269.3 389.4 270.7 389.3 272.0 389.2C273.3 389.1 274.7 389.0 276.0 389.0C277.3 388.9 278.7 388.8 280.0 388.7C281.3 388.6 282.7 388.5 284.0 388.5C285.3 388.4 286.7 388.3 288.0 388.2C289.3 388.2 290.7 388.1 292.0 388.1C293.3 388.1 294.7 388.0 296.0 388.0C297.3 388.0 298.7 388.0 300.0 387.9C301.3 387.9 302.7 387.9 304.0 387.9C305.3 387.8 306.7 387.8 308.0 387.7C309.3 387.6 310.7 387.6 312.0 387.5C313.3 387.3 314.7 387.2 316.0 387.0C317.3 386.9 318.7 386.7 320.0 386.5C321.3 386.3 322.7 386.0 324.0 385.8C325.3 385.5 326.7 385.2 328.0 384.9C329.3 384.6 330.7 384.2 332.0 383.9C333.3 383.6 334.7 383.3 336.0 383.0C337.3 382.7 338.7 382.3 340.0 382.1C341.3 381.8 342.7 381.6 344.0 381.3C345.3 381.1 346.7 381.0 348.0 380.8C349.3 380.6 350.7 380.5 352.0 380.4C353.3 380.3 354.7 380.2 356.0 380.2C357.3 380.1 358.7 380.1 360.0 380.0C361.3 380.0 362.7 380.0 364.0 380.0C365.3 379.9 366.7 379.9 368.0 379.9C369.3 379.9 370.7 379.9 372.0 379.9C373.3 379.8 374.7 379.8 376.0 379.7C377.3 379.6 378.7 379.5 380.0 379.4C381.3 379.2 382.7 379.1 384.0 378.9C385.3 378.7 386.7 378.4 388.0 378.2C389.3 377.9 390.7 377.6 392.0 377.4C393.3 377.1 394.7 376.8 396.0 376.5C397.3 376.2 398.7 375.9 400.0 375.5C401.3 375.2 402.7 374.9 404.0 374.5C405.3 374.2 406.7 373.8 408.0 373.5C409.3 373.1 410.7 372.8 412.0 372.4C413.3 372.0 414.7 371.7 416.0 371.3C417.3 371.0 418.7 370.6 420.0 370.2C421.3 369.9 422.7 369.5 424.0 369.2C425.3 368.9 426.7 368.6 428.0 368.3C429.3 367.9 430.7 367.7 432.0 367.4C433.3 367.1 434.7 366.8 436.0 366.5C437.3 366.3 438.7 366.0 440.0 365.7C441.3 365.4 442.7 365.1 444.0 364.8C445.3 364.4 446.7 364.1 448.0 363.7C449.3 363.3 450.7 362.9 452.0 362.5C453.3 362.1 454.7 361.7 456.0 361.3C457.3 360.9 458.7 360.4 460.0 360.1C461.3 359.7 462.7 359.3 464.0 359.0C465.3 358.6 466.7 358.3 468.0 358.0C469.3 357.7 470.7 357.5 472.0 357.2C473.3 357.0 474.7 356.7 476.0 356.5C477.3 356.2 478.7 356.0 480.0 355.8C481.3 355.5 482.7 355.3 484.0 355.1C485.3 354.8 486.7 354.6 488.0 354.4C489.3 354.1 490.7 353.9 492.0 353.7C493.3 353.4 494.7 353.2 496.0 353.0C497.3 352.7 498.7 352.5 500.0 352.2C501.3 352.0 502.7 351.7 504.0 351.5C505.3 351.2 506.7 351.0 508.0 350.7C509.3 350.5 510.7 350.2 512.0 350.0C513.3 349.7 514.7 349.5 516.0 349.2C517.3 349.0 518.7 348.8 520.0 348.6C521.3 348.5 522.7 348.3 524.0 348.2C525.3 348.0 526.7 347.9 528.0 347.8C529.3 347.7 530.7 347.5 532.0 347.4C533.3 347.3 534.7 347.2 536.0 347.1C537.3 347.0 538.7 346.8 540.0 346.7C541.3 346.6 542.7 346.5 544.0 346.3C545.3 346.2 546.7 346.1 548.0 345.9C549.3 345.8 550.7 345.7 552.0 345.5C553.3 345.4 554.7 345.2 556.0 345.0C557.3 344.9 558.7 344.7 560.0 344.5C561.3 344.2 562.7 344.0 564.0 343.7C565.3 343.5 566.7 343.2 568.0 342.9C569.3 342.5 570.7 342.2 572.0 341.9C573.3 341.6 574.7 341.3 576.0 341.0C577.3 340.7 578.7 340.5 580.0 340.3C581.3 340.1 582.7 339.9 584.0 339.8C585.3 339.6 586.7 339.5 588.0 339.4C589.3 339.3 590.7 339.3 592.0 339.2C593.3 339.1 594.7 339.1 596.0 339.0C597.3 339.0 598.7 338.9 600.0 338.9C601.3 338.9 602.7 338.9 604.0 338.9C605.3 338.9 606.7 339.0 608.0 339.0C609.3 339.1 610.7 339.2 612.0 339.3C613.3 339.4 614.7 339.6 616.0 339.8C617.3 339.9 618.7 340.1 620.0 340.3C621.3 340.5 622.7 340.7 624.0 340.9C625.3 341.0 626.7 341.2 628.0 341.4C629.3 341.6 630.7 341.7 632.0 341.9C633.3 342.1 634.7 342.2 636.0 342.4C637.3 342.6 638.7 342.7 640.0 342.9C641.3 343.1 642.7 343.3 644.0 343.5C645.3 343.7 646.7 343.9 648.0 344.1C649.3 344.3 650.7 344.6 652.0 344.8C653.3 345.0 654.7 345.3 656.0 345.5C657.3 345.8 658.7 346.0 660.0 346.3C661.3 346.5 662.7 346.7 664.0 347.0C665.3 347.2 666.7 347.5 668.0 347.7C669.3 348.0 670.7 348.2 672.0 348.4C673.3 348.7 674.7 348.9 676.0 349.1C677.3 349.4 678.7 349.6 680.0 349.8C681.3 350.0 682.7 350.2 684.0 350.4C685.3 350.6 686.7 350.8 688.0 350.9C689.3 351.1 690.7 351.3 692.0 351.4C693.3 351.6 694.7 351.7 696.0 351.8C697.3 351.9 698.7 352.0 700.0 352.1C701.3 352.1 702.7 352.2 704.0 352.2C705.3 352.2 706.7 352.2 708.0 352.2C709.3 352.2 710.7 352.2 712.0 352.2C713.3 352.2 714.7 352.2 716.0 352.2C717.3 352.2 718.7 352.2 720.0 352.2C721.3 352.2 722.7 352.2 724.0 352.2C725.3 352.3 726.7 352.3 728.0 352.4C729.3 352.4 730.7 352.5 732.0 352.6C733.3 352.6 734.7 352.7 736.0 352.8C737.3 352.9 738.7 353.0 740.0 353.0C741.3 353.1 742.7 353.2 744.0 353.2C745.3 353.3 746.7 353.4 748.0 353.4C749.3 353.5 750.7 353.6 752.0 353.6C753.3 353.7 754.7 353.8 756.0 353.9C757.3 353.9 758.7 354.0 760.0 354.2C761.3 354.3 762.7 354.4 764.0 354.6C765.3 354.7 766.7 354.9 768.0 355.1C769.3 355.3 770.7 355.6 772.0 355.8C773.3 356.1 774.7 356.4 776.0 356.7C777.3 357.1 778.7 357.4 780.0 357.8C781.3 358.1 782.7 358.5 784.0 359.0C785.3 359.4 786.7 359.8 788.0 360.3C789.3 360.7 790.7 361.2 792.0 361.6C793.3 362.1 794.7 362.6 796.0 363.1C797.3 363.6 798.7 364.1 800.0 364.7C801.3 365.2 802.7 365.8 804.0 366.3C805.3 366.9 806.7 367.5 808.0 368.1C809.3 368.8 810.7 369.4 812.0 370.1C813.3 370.8 814.7 371.5 816.0 372.2C817.3 373.0 818.7 373.8 820.0 374.6C821.3 375.4 822.7 376.2 824.0 377.1C825.3 377.9 826.7 378.8 828.0 379.7C829.3 380.6 830.7 381.5 832.0 382.4C833.3 383.3 834.7 384.2 836.0 385.1C837.3 386.0 838.7 386.8 840.0 387.7C841.3 388.6 842.7 389.5 844.0 390.5C845.3 391.4 846.7 392.3 848.0 393.2C849.3 394.2 850.7 395.1 852.0 396.1C853.3 397.0 854.7 398.0 856.0 399.0C857.3 400.0 858.7 401.0 860.0 402.0C861.3 403.0 862.7 404.0 864.0 405.1C865.3 406.1 866.7 407.2 868.0 408.2C869.3 409.2 870.7 410.3 872.0 411.3C873.3 412.4 874.7 413.4 876.0 414.4C877.3 415.5 878.7 416.5 880.0 417.5C881.3 418.5 882.7 419.5 884.0 420.5C885.3 421.5 886.7 422.6 888.0 423.6C889.3 424.6 890.7 425.6 892.0 426.5C893.3 427.5 894.7 428.5 896.0 429.4C897.3 430.3 898.7 431.2 900.0 432.0C901.3 432.9 902.7 433.7 904.0 434.6C905.3 435.4 906.7 436.2 908.0 437.0C909.3 437.9 910.7 438.7 912.0 439.5C913.3 440.4 914.7 441.2 916.0 442.1C917.3 443.0 918.7 443.9 920.0 444.8C921.3 445.8 922.7 446.7 924.0 447.7C925.3 448.7 926.7 449.8 928.0 450.8C929.3 451.8 930.7 452.9 932.0 453.9C933.3 455.0 934.7 456.0 936.0 457.0C937.3 458.0 938.7 458.9 940.0 459.9C941.3 460.8 942.7 461.7 944.0 462.6C945.3 463.4 946.7 464.3 948.0 465.1C949.3 465.9 950.7 466.8 952.0 467.6C953.3 468.4 954.7 469.2 956.0 470.0C957.3 470.9 958.7 471.7 960.0 472.5C961.3 473.3 962.7 474.2 964.0 475.0C965.3 475.8 966.7 476.6 968.0 477.4C969.3 478.2 970.7 479.0 972.0 479.7C973.3 480.5 974.7 481.3 976.0 482.0C977.3 482.8 978.7 483.5 980.0 484.3C981.3 485.1 982.7 485.8 984.0 486.6C985.3 487.4 986.7 488.2 988.0 488.9C989.3 489.7 990.7 490.5 992.0 491.3C993.3 492.1 994.7 492.9 996.0 493.7C997.3 494.6 998.7 495.4 1000.0 496.2C1001.3 497.0 1002.7 497.9 1004.0 498.7C1005.3 499.5 1006.7 500.3 1008.0 501.1C1009.3 502.0 1010.7 502.8 1012.0 503.6C1013.3 504.4 1014.7 505.2 1016.0 505.9C1017.3 506.7 1018.7 507.5 1020.0 508.2C1021.3 509.0 1022.7 509.7 1024.0 510.4C1025.3 511.1 1026.7 511.8 1028.0 512.5C1029.3 513.2 1031.0 514.0 1032.0 514.5C1033.0 515.0 1033.7 515.3 1034.0 515.5" stroke="#2a26b4" stroke-width="2.05" fill="none" stroke-linejoin="round" stroke-linecap="round"/>
<path d="M0.0 502.4C0.4 502.6 1.7 502.8 2.5 503.1C3.3 503.3 4.2 503.6 5.0 504.0C5.8 504.3 6.7 504.8 7.5 505.2C8.3 505.6 9.2 506.0 10.0 506.5C10.8 506.9 11.7 507.4 12.5 507.8C13.3 508.2 14.2 508.5 15.0 508.9C15.8 509.2 16.7 509.5 17.5 509.9C18.3 510.2 19.2 510.5 20.0 510.8C20.8 511.1 21.7 511.5 22.5 511.8C23.3 512.2 24.2 512.5 25.0 512.9C25.8 513.3 26.7 513.6 27.5 514.0C28.3 514.3 29.2 514.7 30.0 515.0C30.8 515.3 31.7 515.6 32.5 515.8C33.3 516.1 34.2 516.3 35.0 516.5C35.8 516.6 36.7 516.7 37.5 516.7C38.3 516.8 39.2 516.7 40.0 516.5C40.8 516.4 41.7 516.2 42.5 515.9C43.3 515.7 44.2 515.3 45.0 515.0C45.8 514.7 46.7 514.4 47.5 514.0C48.3 513.7 49.2 513.3 50.0 513.0C50.8 512.6 51.7 512.3 52.5 511.9C53.3 511.6 54.2 511.3 55.0 511.1C55.8 510.8 56.7 510.6 57.5 510.5C58.3 510.3 59.2 510.3 60.0 510.2C60.8 510.2 61.7 510.2 62.5 510.2C63.3 510.2 64.2 510.2 65.0 510.1C65.8 510.1 66.7 510.0 67.5 509.8C68.3 509.6 69.2 509.3 70.0 509.0C70.8 508.7 71.7 508.3 72.5 507.8C73.3 507.4 74.2 506.8 75.0 506.2C75.8 505.6 76.7 504.9 77.5 504.2C78.3 503.5 79.2 502.6 80.0 501.8C80.8 501.0 81.7 500.1 82.5 499.2C83.3 498.3 84.2 497.3 85.0 496.4C85.8 495.4 86.7 494.4 87.5 493.4C88.3 492.4 89.2 491.4 90.0 490.4C90.8 489.3 91.7 488.3 92.5 487.3C93.3 486.3 94.2 485.3 95.0 484.4C95.8 483.5 96.7 482.6 97.5 481.8C98.3 481.0 99.2 480.2 100.0 479.4C100.8 478.6 101.7 477.8 102.5 477.0C103.3 476.1 104.2 475.2 105.0 474.3C105.8 473.3 106.7 472.3 107.5 471.3C108.3 470.3 109.2 469.2 110.0 468.2C110.8 467.1 111.7 466.0 112.5 464.9C113.3 463.8 114.2 462.8 115.0 461.7C115.8 460.6 116.7 459.5 117.5 458.4C118.3 457.3 119.2 456.3 120.0 455.2C120.8 454.2 121.7 453.2 122.5 452.2C123.3 451.2 124.2 450.2 125.0 449.2C125.8 448.2 126.7 447.3 127.5 446.3C128.3 445.3 129.2 444.4 130.0 443.4C130.8 442.4 131.7 441.5 132.5 440.5C133.3 439.5 134.2 438.5 135.0 437.4C135.8 436.4 136.7 435.3 137.5 434.2C138.3 433.1 139.2 432.0 140.0 430.8C140.8 429.6 141.7 428.4 142.5 427.2C143.3 426.0 144.2 424.8 145.0 423.6C145.8 422.3 146.7 421.0 147.5 419.8C148.3 418.5 149.2 417.2 150.0 415.9C150.8 414.7 151.7 413.4 152.5 412.2C153.3 410.9 154.2 409.7 155.0 408.5C155.8 407.3 156.7 406.2 157.5 405.0C158.3 403.9 159.2 402.8 160.0 401.6C160.8 400.5 161.7 399.4 162.5 398.2C163.3 397.1 164.2 396.0 165.0 395.0C165.8 393.9 166.7 392.8 167.5 391.9C168.3 390.9 169.2 390.0 170.0 389.1C170.8 388.2 171.7 387.4 172.5 386.6C173.3 385.9 174.2 385.1 175.0 384.4C175.8 383.6 176.7 382.9 177.5 382.2C178.3 381.5 179.2 380.9 180.0 380.2C180.8 379.6 181.7 379.0 182.5 378.4C183.3 377.8 184.2 377.3 185.0 376.7C185.8 376.2 186.7 375.8 187.5 375.3C188.3 374.9 189.2 374.5 190.0 374.1C190.8 373.7 191.7 373.4 192.5 373.0C193.3 372.7 194.2 372.3 195.0 372.0C195.8 371.7 196.7 371.3 197.5 371.0C198.3 370.7 199.2 370.4 200.0 370.2C200.8 369.9 201.7 369.7 202.5 369.6C203.3 369.4 204.2 369.3 205.0 369.3C205.8 369.2 206.7 369.3 207.5 369.3C208.3 369.4 209.2 369.5 210.0 369.6C210.8 369.8 211.7 370.0 212.5 370.2C213.3 370.4 214.2 370.6 215.0 370.9C215.8 371.1 216.7 371.3 217.5 371.5C218.3 371.7 219.2 371.8 220.0 371.9C220.8 372.0 221.7 372.1 222.5 372.1C223.3 372.1 224.2 372.1 225.0 372.0C225.8 372.0 226.7 371.9 227.5 371.7C228.3 371.5 229.2 371.3 230.0 371.0C230.8 370.7 231.7 370.4 232.5 370.0C233.3 369.6 234.2 369.1 235.0 368.5C235.8 368.0 236.7 367.5 237.5 366.9C238.3 366.4 239.2 365.8 240.0 365.2C240.8 364.7 241.7 364.2 242.5 363.6C243.3 363.1 244.2 362.6 245.0 362.1C245.8 361.6 246.7 361.1 247.5 360.6C248.3 360.1 249.2 359.6 250.0 359.0C250.8 358.5 251.7 357.9 252.5 357.4C253.3 356.8 254.2 356.2 255.0 355.6C255.8 355.0 256.7 354.3 257.5 353.6C258.3 352.9 259.2 352.2 260.0 351.4C260.8 350.7 261.7 349.8 262.5 349.0C263.3 348.1 264.2 347.2 265.0 346.2C265.8 345.3 266.7 344.3 267.5 343.2C268.3 342.2 269.2 341.1 270.0 340.0C270.8 338.9 271.7 337.7 272.5 336.6C273.3 335.5 274.2 334.3 275.0 333.2C275.8 332.1 276.7 331.1 277.5 330.1C278.3 329.1 279.2 328.2 280.0 327.3C280.8 326.4 281.7 325.6 282.5 324.8C283.3 324.0 284.2 323.2 285.0 322.4C285.8 321.7 286.7 320.9 287.5 320.1C288.3 319.3 289.2 318.5 290.0 317.7C290.8 316.9 291.7 316.0 292.5 315.1C293.3 314.2 294.2 313.2 295.0 312.2C295.8 311.2 296.7 310.1 297.5 309.0C298.3 307.9 299.2 306.7 300.0 305.6C300.8 304.4 301.7 303.2 302.5 302.1C303.3 300.9 304.2 299.7 305.0 298.5C305.8 297.4 306.7 296.2 307.5 295.0C308.3 293.8 309.2 292.6 310.0 291.5C310.8 290.3 311.7 289.2 312.5 288.2C313.3 287.1 314.2 286.1 315.0 285.1C315.8 284.1 316.7 283.2 317.5 282.2C318.3 281.2 319.2 280.2 320.0 279.1C320.8 278.0 321.7 276.9 322.5 275.7C323.3 274.5 324.2 273.3 325.0 271.9C325.8 270.6 326.7 269.2 327.5 267.8C328.3 266.3 329.2 264.8 330.0 263.2C330.8 261.7 331.7 260.1 332.5 258.4C333.3 256.8 334.2 255.2 335.0 253.6C335.8 251.9 336.7 250.3 337.5 248.8C338.3 247.2 339.2 245.6 340.0 244.1C340.8 242.6 341.7 241.2 342.5 239.7C343.3 238.3 344.2 236.9 345.0 235.5C345.8 234.2 346.7 232.8 347.5 231.4C348.3 230.1 349.2 228.7 350.0 227.4C350.8 226.0 351.7 224.7 352.5 223.5C353.3 222.2 354.2 221.0 355.0 219.9C355.8 218.8 356.7 217.7 357.5 216.8C358.3 215.8 359.2 214.9 360.0 214.1C360.8 213.2 361.7 212.4 362.5 211.7C363.3 210.9 364.2 210.2 365.0 209.6C365.8 209.0 366.7 208.4 367.5 207.9C368.3 207.5 369.2 207.1 370.0 206.7C370.8 206.4 371.7 206.2 372.5 206.0C373.3 205.8 374.2 205.7 375.0 205.6C375.8 205.5 376.7 205.5 377.5 205.4C378.3 205.3 379.2 205.2 380.0 205.1C380.8 205.0 381.7 204.8 382.5 204.7C383.3 204.6 384.2 204.5 385.0 204.5C385.8 204.4 386.7 204.4 387.5 204.4C388.3 204.4 389.2 204.4 390.0 204.6C390.8 204.7 391.7 204.9 392.5 205.2C393.3 205.5 394.2 205.9 395.0 206.4C395.8 206.9 396.7 207.5 397.5 208.2C398.3 208.9 399.2 209.7 400.0 210.5C400.8 211.3 401.7 212.1 402.5 212.9C403.3 213.8 404.2 214.7 405.0 215.6C405.8 216.5 406.7 217.5 407.5 218.6C408.3 219.6 409.2 220.6 410.0 221.6C410.8 222.6 411.7 223.6 412.5 224.6C413.3 225.5 414.2 226.5 415.0 227.4C415.8 228.2 416.7 229.1 417.5 230.0C418.3 230.8 419.2 231.7 420.0 232.5C420.8 233.4 421.7 234.2 422.5 235.1C423.3 235.9 424.2 236.8 425.0 237.7C425.8 238.6 426.7 239.5 427.5 240.4C428.3 241.3 429.2 242.2 430.0 243.2C430.8 244.1 431.7 245.0 432.5 246.0C433.3 247.0 434.2 247.9 435.0 248.9C435.8 249.9 436.7 250.9 437.5 251.9C438.3 253.0 439.2 254.0 440.0 255.1C440.8 256.1 441.7 257.2 442.5 258.3C443.3 259.4 444.2 260.5 445.0 261.6C445.8 262.7 446.7 263.9 447.5 265.0C448.3 266.1 449.2 267.2 450.0 268.2C450.8 269.2 451.7 270.1 452.5 270.9C453.3 271.8 454.2 272.6 455.0 273.4C455.8 274.3 456.7 275.1 457.5 276.1C458.3 277.0 459.2 278.0 460.0 279.1C460.8 280.3 461.7 281.5 462.5 282.7C463.3 283.9 464.2 285.2 465.0 286.5C465.8 287.8 466.7 289.2 467.5 290.5C468.3 291.8 469.2 293.1 470.0 294.4C470.8 295.6 471.7 296.9 472.5 298.1C473.3 299.3 474.2 300.5 475.0 301.7C475.8 302.9 476.7 304.2 477.5 305.5C478.3 306.8 479.2 308.2 480.0 309.6C480.8 311.0 481.7 312.4 482.5 313.7C483.3 315.0 484.2 316.4 485.0 317.6C485.8 318.9 486.7 320.0 487.5 321.2C488.3 322.4 489.2 323.5 490.0 324.6C490.8 325.7 491.7 326.9 492.5 328.0C493.3 329.2 494.2 330.3 495.0 331.5C495.8 332.6 496.7 333.8 497.5 334.9C498.3 336.1 499.2 337.1 500.0 338.2C500.8 339.3 501.7 340.4 502.5 341.5C503.3 342.6 504.2 343.7 505.0 344.8C505.8 345.9 506.7 347.0 507.5 348.0C508.3 349.1 509.2 350.1 510.0 351.2C510.8 352.2 511.7 353.2 512.5 354.1C513.3 355.1 514.2 356.1 515.0 357.0C515.8 358.0 516.7 359.0 517.5 360.0C518.3 361.0 519.2 362.0 520.0 363.1C520.8 364.2 521.7 365.3 522.5 366.6C523.3 367.8 524.2 369.1 525.0 370.4C525.8 371.8 526.7 373.2 527.5 374.5C528.3 375.8 529.2 377.1 530.0 378.3C530.8 379.5 531.7 380.6 532.5 381.7C533.3 382.7 534.2 383.7 535.0 384.6C535.8 385.6 536.7 386.5 537.5 387.4C538.3 388.3 539.2 389.2 540.0 390.1C540.8 391.0 541.7 391.9 542.5 392.8C543.3 393.7 544.2 394.7 545.0 395.5C545.8 396.4 546.7 397.2 547.5 398.0C548.3 398.8 549.2 399.6 550.0 400.3C550.8 401.1 551.7 401.8 552.5 402.6C553.3 403.3 554.2 404.0 555.0 404.8C555.8 405.5 556.7 406.2 557.5 407.0C558.3 407.7 559.2 408.5 560.0 409.2C560.8 409.9 561.7 410.6 562.5 411.2C563.3 411.9 564.2 412.5 565.0 413.0C565.8 413.6 566.7 414.0 567.5 414.5C568.3 414.9 569.2 415.2 570.0 415.6C570.8 415.9 571.7 416.2 572.5 416.4C573.3 416.7 574.2 417.0 575.0 417.3C575.8 417.6 576.7 417.9 577.5 418.2C578.3 418.6 579.2 419.0 580.0 419.5C580.8 419.9 581.7 420.5 582.5 421.0C583.3 421.6 584.2 422.2 585.0 422.8C585.8 423.4 586.7 424.0 587.5 424.6C588.3 425.2 589.2 425.7 590.0 426.2C590.8 426.7 591.7 427.2 592.5 427.7C593.3 428.1 594.2 428.5 595.0 429.0C595.8 429.4 596.7 429.8 597.5 430.2C598.3 430.6 599.2 431.0 600.0 431.5C600.8 431.9 601.7 432.4 602.5 432.9C603.3 433.3 604.2 433.8 605.0 434.4C605.8 434.9 606.7 435.4 607.5 436.0C608.3 436.5 609.2 437.1 610.0 437.6C610.8 438.2 611.7 438.7 612.5 439.3C613.3 439.8 614.2 440.3 615.0 440.8C615.8 441.3 616.7 441.7 617.5 442.1C618.3 442.6 619.2 442.9 620.0 443.3C620.8 443.6 621.7 443.9 622.5 444.2C623.3 444.5 624.2 444.8 625.0 445.0C625.8 445.2 626.7 445.4 627.5 445.5C628.3 445.7 629.2 445.7 630.0 445.8C630.8 445.9 631.7 445.9 632.5 445.9C633.3 445.9 634.2 445.9 635.0 445.9C635.8 446.0 636.7 446.0 637.5 446.1C638.3 446.2 639.2 446.3 640.0 446.5C640.8 446.7 641.7 446.9 642.5 447.1C643.3 447.3 644.2 447.5 645.0 447.8C645.8 448.0 646.7 448.3 647.5 448.6C648.3 448.8 649.2 449.1 650.0 449.3C650.8 449.5 651.7 449.8 652.5 450.0C653.3 450.2 654.2 450.4 655.0 450.5C655.8 450.7 656.7 450.8 657.5 451.0C658.3 451.1 659.2 451.2 660.0 451.2C660.8 451.3 661.7 451.3 662.5 451.2C663.3 451.2 664.2 451.1 665.0 450.9C665.8 450.8 666.7 450.5 667.5 450.3C668.3 450.1 669.2 449.9 670.0 449.6C670.8 449.3 671.7 449.1 672.5 448.8C673.3 448.5 674.2 448.3 675.0 448.0C675.8 447.7 676.7 447.4 677.5 447.1C678.3 446.8 679.2 446.5 680.0 446.2C680.8 445.9 681.7 445.6 682.5 445.3C683.3 445.0 684.2 444.8 685.0 444.5C685.8 444.3 686.7 444.0 687.5 443.7C688.3 443.5 689.2 443.2 690.0 443.0C690.8 442.7 691.7 442.4 692.5 442.1C693.3 441.8 694.2 441.5 695.0 441.1C695.8 440.8 696.7 440.4 697.5 440.0C698.3 439.6 699.2 439.3 700.0 438.9C700.8 438.5 701.7 438.2 702.5 437.8C703.3 437.5 704.2 437.1 705.0 436.8C705.8 436.5 706.7 436.1 707.5 435.8C708.3 435.5 709.2 435.2 710.0 434.9C710.8 434.6 711.7 434.4 712.5 434.1C713.3 433.9 714.2 433.6 715.0 433.4C715.8 433.2 716.7 433.0 717.5 432.8C718.3 432.5 719.2 432.3 720.0 432.1C720.8 431.9 721.7 431.6 722.5 431.4C723.3 431.1 724.2 430.9 725.0 430.6C725.8 430.4 726.7 430.2 727.5 430.0C728.3 429.8 729.2 429.7 730.0 429.6C730.8 429.5 731.7 429.4 732.5 429.4C733.3 429.3 734.2 429.3 735.0 429.2C735.8 429.1 736.7 429.0 737.5 428.9C738.3 428.8 739.2 428.7 740.0 428.5C740.8 428.4 741.7 428.2 742.5 428.0C743.3 427.9 744.2 427.7 745.0 427.5C745.8 427.3 746.7 427.1 747.5 426.9C748.3 426.8 749.2 426.6 750.0 426.4C750.8 426.2 751.7 426.0 752.5 425.9C753.3 425.7 754.2 425.6 755.0 425.4C755.8 425.3 756.7 425.2 757.5 425.1C758.3 425.0 759.2 424.9 760.0 424.9C760.8 424.8 761.7 424.8 762.5 424.8C763.3 424.8 764.2 424.8 765.0 424.9C765.8 424.9 766.7 425.0 767.5 425.2C768.3 425.3 769.2 425.4 770.0 425.6C770.8 425.7 771.7 425.8 772.5 426.0C773.3 426.1 774.2 426.2 775.0 426.2C775.8 426.3 776.7 426.3 777.5 426.3C778.3 426.4 779.2 426.4 780.0 426.4C780.8 426.3 781.7 426.3 782.5 426.3C783.3 426.3 784.2 426.2 785.0 426.2C785.8 426.2 786.7 426.1 787.5 426.1C788.3 426.1 789.2 426.1 790.0 426.1C790.8 426.1 791.7 426.2 792.5 426.2C793.3 426.3 794.2 426.3 795.0 426.4C795.8 426.4 796.7 426.5 797.5 426.5C798.3 426.6 799.2 426.6 800.0 426.7C800.8 426.7 801.7 426.7 802.5 426.8C803.3 426.9 804.2 426.9 805.0 427.0C805.8 427.2 806.7 427.3 807.5 427.5C808.3 427.8 809.2 428.0 810.0 428.4C810.8 428.7 811.7 429.1 812.5 429.5C813.3 430.0 814.2 430.4 815.0 430.9C815.8 431.4 816.7 431.9 817.5 432.5C818.3 433.1 819.2 433.7 820.0 434.3C820.8 435.0 821.7 435.6 822.5 436.4C823.3 437.1 824.2 437.9 825.0 438.7C825.8 439.6 826.7 440.5 827.5 441.5C828.3 442.4 829.2 443.4 830.0 444.4C830.8 445.4 831.7 446.4 832.5 447.5C833.3 448.5 834.2 449.5 835.0 450.5C835.8 451.5 836.7 452.5 837.5 453.6C838.3 454.7 839.2 455.8 840.0 457.0C840.8 458.1 841.7 459.4 842.5 460.6C843.3 461.9 844.2 463.2 845.0 464.5C845.8 465.8 846.7 467.1 847.5 468.3C848.3 469.5 849.2 470.7 850.0 471.9C850.8 473.1 851.7 474.2 852.5 475.3C853.3 476.5 854.2 477.6 855.0 478.8C855.8 480.0 856.7 481.2 857.5 482.4C858.3 483.6 859.2 484.9 860.0 486.2C860.8 487.4 861.7 488.7 862.5 490.0C863.3 491.2 864.2 492.5 865.0 493.6C865.8 494.8 866.7 495.9 867.5 497.0C868.3 498.1 869.2 499.1 870.0 500.1C870.8 501.1 871.7 502.0 872.5 503.0C873.3 503.9 874.2 504.8 875.0 505.7C875.8 506.6 876.7 507.5 877.5 508.3C878.3 509.1 879.2 509.9 880.0 510.7C880.8 511.5 881.7 512.2 882.5 513.0C883.3 513.7 884.2 514.5 885.0 515.2C885.8 516.0 886.7 516.8 887.5 517.6C888.3 518.3 889.2 519.1 890.0 519.9C890.8 520.6 891.7 521.3 892.5 522.0C893.3 522.7 894.2 523.4 895.0 524.0C895.8 524.7 896.7 525.3 897.5 526.0C898.3 526.6 899.2 527.3 900.0 528.0C900.8 528.7 901.7 529.4 902.5 530.2C903.3 531.0 904.2 531.8 905.0 532.6C905.8 533.4 906.7 534.2 907.5 535.1C908.3 535.9 909.2 536.7 910.0 537.6C910.8 538.5 911.7 539.4 912.5 540.4C913.3 541.4 914.2 542.4 915.0 543.4C915.8 544.5 916.7 545.6 917.5 546.8C918.3 547.9 919.2 549.2 920.0 550.4C920.8 551.6 921.7 552.9 922.5 554.1C923.3 555.4 924.2 556.6 925.0 557.9C925.8 559.2 926.7 560.5 927.5 561.7C928.3 563.0 929.2 564.4 930.0 565.7C930.8 567.0 931.7 568.3 932.5 569.6C933.3 570.9 934.2 572.2 935.0 573.5C935.8 574.8 936.7 576.1 937.5 577.5C938.3 578.8 939.2 580.2 940.0 581.6C940.8 583.0 941.7 584.4 942.5 585.8C943.3 587.2 944.2 588.5 945.0 589.8C945.8 591.1 946.7 592.3 947.5 593.4C948.3 594.5 949.2 595.6 950.0 596.6C950.8 597.6 951.7 598.5 952.5 599.4C953.3 600.3 954.2 601.2 955.0 601.9C955.8 602.7 956.7 603.5 957.5 604.2C958.3 604.9 959.2 605.6 960.0 606.2C960.8 606.9 961.7 607.6 962.5 608.2C963.3 608.9 964.2 609.6 965.0 610.3C965.8 610.9 966.7 611.6 967.5 612.4C968.3 613.1 969.2 613.8 970.0 614.5C970.8 615.3 971.7 616.0 972.5 616.8C973.3 617.6 974.2 618.4 975.0 619.2C975.8 620.0 976.7 620.8 977.5 621.5C978.3 622.3 979.2 623.0 980.0 623.7C980.8 624.4 981.7 625.0 982.5 625.6C983.3 626.3 984.2 626.8 985.0 627.4C985.8 628.0 986.7 628.6 987.5 629.2C988.3 629.8 989.2 630.5 990.0 631.2C990.8 631.8 991.7 632.6 992.5 633.3C993.3 634.0 994.2 634.7 995.0 635.4C995.8 636.1 996.7 636.8 997.5 637.4C998.3 638.1 999.2 638.7 1000.0 639.3C1000.8 639.9 1001.7 640.4 1002.5 641.0C1003.3 641.5 1004.2 642.1 1005.0 642.6C1005.8 643.2 1006.7 643.7 1007.5 644.3C1008.3 644.9 1009.2 645.4 1010.0 646.0C1010.8 646.6 1011.7 647.1 1012.5 647.7C1013.3 648.3 1014.2 648.9 1015.0 649.4C1015.8 650.0 1016.7 650.6 1017.5 651.2C1018.3 651.7 1019.2 652.3 1020.0 652.9C1020.8 653.5 1021.7 654.0 1022.5 654.6C1023.3 655.2 1024.2 655.8 1025.0 656.4C1025.8 657.0 1026.7 657.6 1027.5 658.2C1028.3 658.8 1029.2 659.4 1030.0 660.1C1030.8 660.7 1031.8 661.4 1032.5 662.0C1033.2 662.5 1033.8 662.9 1034.0 663.1" stroke="#c83548" stroke-width="2.05" fill="none" stroke-linejoin="round" stroke-linecap="round"/>
</svg>
<div class="bar" style="left:0;top:770px;width:1440px;height:1px;background:#e3e4e8"></div>
<div class="bar" style="left:386px;top:779px;width:1px;height:23px"></div>
<div class="bar" style="left:1312px;top:779px;width:1px;height:23px"></div>
<div class="box pill" style="left:7.2px;top:32.2px;width:69.6px;height:24.6px;border-color:#d68388"></div>
<div class="box pill" style="left:114.6px;top:32.2px;width:70.2px;height:24.6px;border-color:#6c8dcc"></div>
<div class="box pill" style="left:9.1px;top:111.3px;width:28.8px;height:21.3px;border-color:#dddfe3;border-radius:3.5px"></div>
<svg class="box icons" style="left:0;top:0" width="1440" height="810" viewBox="0 0 1440 810"><path d="M19.4 123.9L23.55 120.1L27.7 123.9" fill="none" stroke="#131722" stroke-width="1.5"/><circle cx="368" cy="16.4" r="9" fill="#d3ede8"/><circle cx="368" cy="16.4" r="4.3" fill="#0f9b7e"/><circle cx="24" cy="719.9" r="16.6" fill="#fff" stroke="#e4e5e9" stroke-width="1"/><path d="M13.05 715.1H22.2V725.9H18.05V718.9H13.05Z M29.4 715.1H34.6L30.6 725.9H25.6Z" fill="#131722"/><circle cx="25.4" cy="716.9" r="2.1" fill="#131722"/><g fill="none" stroke="#2a2e39" stroke-width="1.25"><path d="M404.5 789.3V786.4a2.6 2.6 0 0 1 2.6-2.6H417.5a2.6 2.6 0 0 1 2.6 2.6V794.2a2.6 2.6 0 0 1-2.6 2.6H412.8"/><path d="M404.5 787.9H420.1"/><path d="M403.5 794H410.6M407.5 790.6L410.9 794L407.5 797.4"/></g><circle cx="408.9" cy="783.8" r="1.25" fill="#2a2e39"/><circle cx="415.95" cy="783.8" r="1.25" fill="#2a2e39"/><circle cx="1404.4" cy="756.7" r="4.9" fill="none" stroke="#131722" stroke-width="1.2"/><path d="M1409.60 756.70L1412.10 756.70M1408.08 760.38L1409.84 762.14M1404.40 761.90L1404.40 764.40M1400.72 760.38L1398.96 762.14M1399.20 756.70L1396.70 756.70M1400.72 753.02L1398.96 751.26M1404.40 751.50L1404.40 749.00M1408.08 753.02L1409.84 751.26" stroke="#131722" stroke-width="1.5" fill="none"/></svg>
<h1 class="grp title">
<span class="t" style="left:8.01px;top:5.00px;font-size:16px;line-height:24px;color:#131722;transform:scaleX(1.1095)"><span class="k">비트코인</span></span>
<span class="t" style="left:79.50px;top:5.00px;font-size:16px;line-height:24px;color:#131722">/</span>
<span class="t" style="left:90.82px;top:5.00px;font-size:16px;line-height:24px;color:#131722;transform:scaleX(1.1518)"><span class="k">달러</span></span>
<span class="t" style="left:126.30px;top:-2.00px;font-size:24px;line-height:36px;color:#9ea1aa">·</span>
<span class="t" style="left:136.76px;top:5.00px;font-size:16px;line-height:24px;color:#131722;transform:scaleX(0.9031)">1<span class="k">날</span></span>
<span class="t" style="left:162.70px;top:-2.00px;font-size:24px;line-height:36px;color:#9ea1aa">·</span>
<span class="t" style="left:172.81px;top:5.00px;font-size:16px;line-height:24px;color:#131722;transform:scaleX(0.8649)">COINBASE</span>
<span class="t" style="left:245.70px;top:-2.00px;font-size:24px;line-height:36px;color:#9ea1aa">·</span>
<span class="t" style="left:256.75px;top:5.00px;font-size:16px;line-height:24px;color:#131722;transform:scaleX(0.9897)">TradingView</span>
</h1>
<div class="grp ohlc">
<span class="t" style="left:392.58px;top:8.00px;font-size:13px;line-height:20px;color:#6a6d78;transform:scaleX(1.2371)"><span class="k">시</span></span>
<span class="t" style="left:407.75px;top:8.00px;font-size:13px;line-height:20px;color:#d1444c;transform:scaleX(0.9814)">21312.06</span>
<span class="t" style="left:467.85px;top:8.00px;font-size:13px;line-height:20px;color:#6a6d78;transform:scaleX(1.0256)"><span class="k">고</span></span>
<span class="t" style="left:481.25px;top:8.00px;font-size:13px;line-height:20px;color:#d1444c;transform:scaleX(0.9739)">21344.43</span>
<span class="t" style="left:540.08px;top:8.00px;font-size:13px;line-height:20px;color:#6a6d78;transform:scaleX(1.2371)"><span class="k">저</span></span>
<span class="t" style="left:554.76px;top:8.00px;font-size:13px;line-height:20px;color:#d1444c;transform:scaleX(0.9628)">20715.00</span>
<span class="t" style="left:614.15px;top:8.00px;font-size:13px;line-height:20px;color:#6a6d78;transform:scaleX(1.0256)"><span class="k">종</span></span>
<span class="t" style="left:628.26px;top:8.00px;font-size:13px;line-height:20px;color:#d1444c;transform:scaleX(0.9628)">21019.73</span>
<span class="t" style="left:686.65px;top:8.00px;font-size:13px;line-height:20px;color:#d1444c;transform:scaleX(0.9700)">−293.68</span>
<span class="t" style="left:737.11px;top:8.00px;font-size:13px;line-height:20px;color:#d1444c;transform:scaleX(0.9448)">(−1.38%)</span>
</div>
<div class="grp quote">
<span class="t" style="left:16.45px;top:35.00px;font-size:13px;line-height:20px;color:#d1444c;transform:scaleX(0.9683)">21018.93</span>
<span class="t" style="left:85.46px;top:37.00px;font-size:11.5px;line-height:17px;color:#6a6d78;transform:scaleX(0.9447)">5.23</span>
<span class="t" style="left:123.65px;top:35.00px;font-size:13px;line-height:20px;color:#3a69c4;transform:scaleX(0.9702)">21024.16</span>
</div>
<div class="grp indicators">
<span class="t" style="left:8.42px;top:64.00px;font-size:12px;line-height:18px;color:#42454f;transform:scaleX(1.0266)">MA 50 close 0 SMA 5</span>
<span class="t" style="left:134.76px;top:63.00px;font-size:13px;line-height:20px;color:#d1444c;transform:scaleX(0.9628)">21987.22</span>
<span class="t" style="left:8.41px;top:89.00px;font-size:12px;line-height:18px;color:#42454f;transform:scaleX(1.0354)">MA 200 close 0 SMA 5</span>
<span class="t" style="left:140.77px;top:88.00px;font-size:13px;line-height:20px;color:#2b2bb0;transform:scaleX(0.9845)">34527.11</span>
</div>
<div class="grp price-axis">
<span class="t" style="left:1379.35px;top:18.00px;font-size:12px;line-height:18px;color:#1c202b;transform:scaleX(0.9819)">76000.00</span>
<span class="t" style="left:1379.35px;top:65.00px;font-size:12px;line-height:18px;color:#1c202b;transform:scaleX(0.9819)">72000.00</span>
<span class="t" style="left:1379.35px;top:113.00px;font-size:12px;line-height:18px;color:#1c202b;transform:scaleX(0.9819)">68000.00</span>
<span class="t" style="left:1379.35px;top:160.00px;font-size:12px;line-height:18px;color:#1c202b;transform:scaleX(0.9819)">64000.00</span>
<span class="t" style="left:1379.35px;top:208.00px;font-size:12px;line-height:18px;color:#1c202b;transform:scaleX(0.9819)">60000.00</span>
<span class="t" style="left:1378.35px;top:255.00px;font-size:12px;line-height:18px;color:#1c202b">56000.00</span>
<span class="t" style="left:1378.35px;top:303.00px;font-size:12px;line-height:18px;color:#1c202b">52000.00</span>
<span class="t" style="left:1379.35px;top:350.00px;font-size:12px;line-height:18px;color:#1c202b;transform:scaleX(0.9819)">48000.00</span>
<span class="t" style="left:1379.35px;top:398.00px;font-size:12px;line-height:18px;color:#1c202b;transform:scaleX(0.9819)">44000.00</span>
<span class="t" style="left:1379.35px;top:445.00px;font-size:12px;line-height:18px;color:#1c202b;transform:scaleX(0.9819)">40000.00</span>
<span class="t" style="left:1379.35px;top:493.00px;font-size:12px;line-height:18px;color:#1c202b;transform:scaleX(0.9819)">36000.00</span>
<span class="t" style="left:1379.35px;top:540.00px;font-size:12px;line-height:18px;color:#1c202b;transform:scaleX(0.9819)">32000.00</span>
<span class="t" style="left:1379.35px;top:588.00px;font-size:12px;line-height:18px;color:#1c202b;transform:scaleX(0.9819)">28000.00</span>
<span class="t" style="left:1379.35px;top:635.00px;font-size:12px;line-height:18px;color:#1c202b;transform:scaleX(0.9819)">24000.00</span>
<span class="t" style="left:1379.35px;top:683.00px;font-size:12px;line-height:18px;color:#1c202b;transform:scaleX(0.9819)">20000.00</span>
<span class="t" style="left:1378.35px;top:730.00px;font-size:12px;line-height:18px;color:#1c202b">16000.00</span>
</div>
<div class="grp time-axis">
<span class="t" style="left:48.09px;top:749.00px;font-size:12px;line-height:18px;color:#2a2e39;transform:scaleX(1.0479)">8<span class="k">월</span></span>
<span class="t" style="left:132.59px;top:749.00px;font-size:12px;line-height:18px;color:#2a2e39;transform:scaleX(1.0479)">9<span class="k">월</span></span>
<span class="t" style="left:210.58px;top:749.00px;font-size:12px;line-height:18px;color:#2a2e39;transform:scaleX(1.0599)">10<span class="k">월</span></span>
<span class="t" style="left:295.14px;top:749.00px;font-size:12px;line-height:18px;color:#2a2e39;transform:scaleX(1.0918)">11<span class="k">월</span></span>
<span class="t" style="left:376.79px;top:749.00px;font-size:12px;line-height:18px;color:#2a2e39;transform:scaleX(1.0507)">12<span class="k">월</span></span>
<span class="t" style="left:549.39px;top:749.00px;font-size:12px;line-height:18px;color:#2a2e39;transform:scaleX(1.0479)">2<span class="k">월</span></span>
<span class="t" style="left:709.69px;top:749.00px;font-size:12px;line-height:18px;color:#2a2e39;transform:scaleX(1.0479)">4<span class="k">월</span></span>
<span class="t" style="left:790.27px;top:749.00px;font-size:12px;line-height:18px;color:#2a2e39;transform:scaleX(1.1146)">5<span class="k">월</span></span>
<span class="t" style="left:875.49px;top:749.00px;font-size:12px;line-height:18px;color:#2a2e39;transform:scaleX(1.0479)">6<span class="k">월</span></span>
<span class="t" style="left:957.09px;top:749.00px;font-size:12px;line-height:18px;color:#2a2e39;transform:scaleX(1.0479)">7<span class="k">월</span></span>
<span class="t" style="left:1041.39px;top:749.00px;font-size:12px;line-height:18px;color:#2a2e39;transform:scaleX(1.0479)">8<span class="k">월</span></span>
<span class="t" style="left:1125.89px;top:749.00px;font-size:12px;line-height:18px;color:#2a2e39;transform:scaleX(1.0479)">9<span class="k">월</span></span>
<span class="t" style="left:1203.58px;top:749.00px;font-size:12px;line-height:18px;color:#2a2e39;transform:scaleX(1.0599)">10<span class="k">월</span></span>
<span class="t" style="left:1288.06px;top:749.00px;font-size:12px;line-height:18px;color:#2a2e39;transform:scaleX(1.0821)">11<span class="k">월</span></span>
<span class="t" style="left:459.33px;top:749.00px;font-size:12px;line-height:18px;color:#131722;transform:scaleX(1.1089);font-weight:700">2022</span>
</div>
<nav class="grp ranges">
<span class="t" style="left:15.77px;top:781.00px;font-size:14px;line-height:21px;color:#131722;transform:scaleX(0.9848)">1<span class="k">날</span></span>
<span class="t" style="left:51.53px;top:781.00px;font-size:14px;line-height:21px;color:#131722;transform:scaleX(1.0152)">5<span class="k">날</span></span>
<span class="t" style="left:87.34px;top:781.00px;font-size:14px;line-height:21px;color:#131722;transform:scaleX(1.0051)">1<span class="k">달</span></span>
<span class="t" style="left:123.06px;top:781.00px;font-size:14px;line-height:21px;color:#131722;transform:scaleX(0.9949)">3<span class="k">달</span></span>
<span class="t" style="left:158.62px;top:781.00px;font-size:14px;line-height:21px;color:#131722;transform:scaleX(1.0254)">6<span class="k">달</span></span>
<span class="t" style="left:195.47px;top:781.00px;font-size:14px;line-height:21px;color:#131722;transform:scaleX(1.0708)"><span class="k">연초</span> <span class="k">대비</span></span>
<span class="t" style="left:269.80px;top:781.00px;font-size:14px;line-height:21px;color:#131722;transform:scaleX(1.0428)">1<span class="k">해</span></span>
<span class="t" style="left:305.19px;top:781.00px;font-size:14px;line-height:21px;color:#131722;transform:scaleX(1.0481)">5<span class="k">해</span></span>
<span class="t" style="left:341.75px;top:781.00px;font-size:14px;line-height:21px;color:#131722;transform:scaleX(1.0886)"><span class="k">전체</span></span>
</nav>
<div class="grp scale-controls">
<span class="t" style="left:1186.06px;top:780.00px;font-size:14.8px;line-height:22px;color:#131722;transform:scaleX(0.9524)">06:03:58</span>
<span class="t" style="left:1245.37px;top:780.00px;font-size:14.8px;line-height:22px;color:#131722;transform:scaleX(0.8976)">(UTC+9)</span>
<span class="t thin" style="left:1329.90px;top:779.00px;font-size:16px;line-height:24px;color:#2a2e39">%</span>
<span class="t" style="left:1358.64px;top:782.00px;font-size:14px;line-height:21px;color:#131722;transform:scaleX(1.0350)"><span class="k">로그</span></span>
<span class="t" style="left:1400.06px;top:782.00px;font-size:14px;line-height:21px;color:#131722;transform:scaleX(1.0769)"><span class="k">자동</span></span>
</div>
<div class="box tag" style="left:1369px;top:510px;width:65.6px;height:16.8px;background:#2b2bef"></div>
<div class="box tag" style="left:1369px;top:653.2px;width:65.6px;height:17px;background:#f23645"></div>
<div class="box tag" style="left:1369px;top:670.2px;width:65.6px;height:17.4px;background:#ef5350"></div>
<div class="box tag" style="left:1314.1px;top:667.1px;width:54.4px;height:16.8px;background:#ef5350"></div>
<div class="grp price-labels">
<span class="t" style="left:1379.45px;top:511.00px;font-size:12px;line-height:18px;color:#ffffff;transform:scaleX(0.9918)">34527.11</span>
<span class="t" style="left:1379.45px;top:654.00px;font-size:12px;line-height:18px;color:#ffffff;transform:scaleX(0.9718)">21987.22</span>
<span class="t" style="left:1379.45px;top:671.00px;font-size:12px;line-height:18px;color:#ffffff;transform:scaleX(0.9718)">21019.73</span>
<span class="t" style="left:1318.90px;top:668.00px;font-size:11px;line-height:16px;color:#ffffff;transform:scaleX(0.9542)">BTCUSD</span>
</div>
</body>
</html>
